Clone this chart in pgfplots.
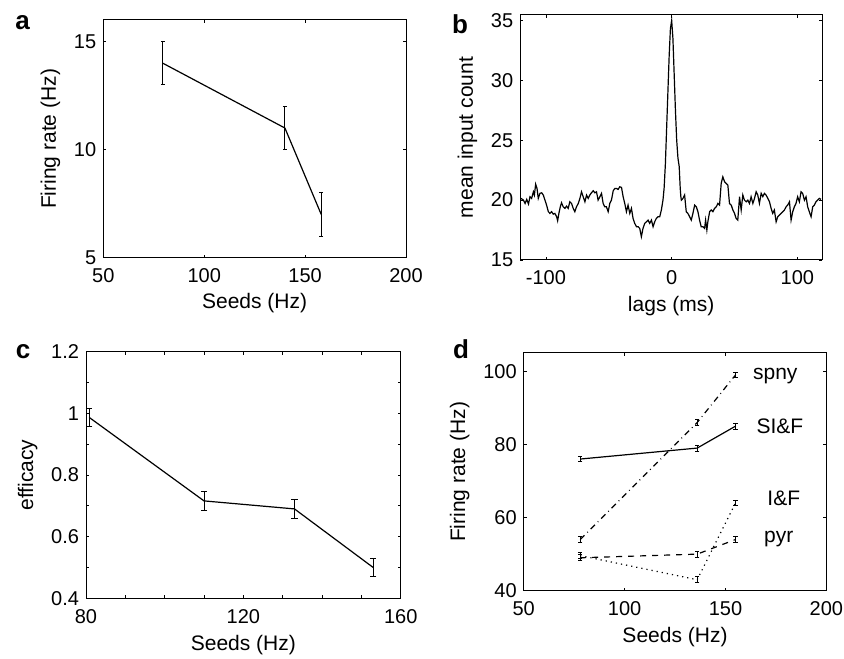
\documentclass[border=0pt]{standalone}
\usepackage{pgfplots}
\pgfplotsset{compat=1.18}
\usepackage{fontspec}
\setmainfont{Liberation Sans}
\pgfplotsset{
  panel/.style={
    scale only axis, anchor=south west,
    tick align=inside, major tick length=1.5pt, minor tick length=1.5pt,
    axis line style={line width=0.5pt},
    every tick/.style={black, line width=0.4pt},
    tick label style={font=\fontsize{10}{12}\selectfont},
    xticklabel style={anchor=base, yshift=-12.5pt},
    label style={font=\fontsize{10.5}{12.5}\selectfont},
    xlabel style={at={(axis description cs:0.5,0)}, anchor=base, yshift=-#1},
    /pgf/number format/assume math mode=true,
  },
  panel/.default=25.5pt,
  ebar/.style={black, line width=0.6pt,
    error bars/.cd, y dir=both, y explicit,
    error bar style={line width=0.5pt, solid},
    error mark options={rotate=90, mark size=#1, line width=0.5pt, solid}},
}
\newcommand{\plabel}{\fontsize{13}{15}\selectfont\bfseries}
\begin{document}
\begin{tikzpicture}
\useasboundingbox (0,0) rectangle (422pt,329pt);
% ---------------- a
\begin{axis}[panel, at={(51.65pt,200.15pt)}, width=151.35pt, height=118.85pt,
  xmin=50, xmax=200, ymin=5, ymax=16,
  xtick={50,100,150,200}, ytick={5,10,15},
  xlabel={Seeds (Hz)}, ylabel={Firing rate (Hz)}]
\addplot[ebar=1pt] coordinates {
  (79.5,14) +- (0,1)
  (140,11) +- (0,1)
  (158,7) +- (0,1)
};
\end{axis}
% ---------------- b
\begin{axis}[panel=26pt, at={(260.15pt,199pt)}, width=150.85pt, height=122.5pt,
  xmin=-120.4, xmax=119.6, ymin=15, ymax=35.45,
  xtick={-100,0,100}, ytick={15,20,25,30,35},
  xlabel={lags (ms)}, ylabel={mean input count}]
\addplot[black, line width=0.6pt] coordinates {
(-119.8,20.14) (-117.9,20.0) (-116.6,19.72) (-115.3,20.06) (-113.9,19.67) (-112.7,20.28)
(-111.4,20.14) (-110.0,20.69) (-109.2,20.42) (-108.2,21.33) (-107.1,20.97) (-106.1,20.14)
(-104.8,20.56) (-103.4,20.61) (-102.1,20.42) (-100.8,20.0) (-99.5,19.58) (-98.1,19.03)
(-96.8,18.89) (-95.5,19.03) (-94.2,18.83) (-92.9,18.89) (-91.5,18.61) (-90.7,18.28)
(-89.7,18.89) (-88.6,19.44) (-87.6,19.78) (-86.3,19.44) (-84.9,19.31) (-83.6,19.5)
(-82.3,19.31) (-81.0,19.86) (-79.6,19.72) (-78.3,19.31) (-77.0,19.03) (-75.7,19.44)
(-74.3,19.72) (-73.0,20.14) (-71.7,20.69) (-70.4,20.28) (-69.0,19.86) (-67.7,20.42)
(-66.4,20.14) (-65.1,20.42) (-63.8,20.61) (-62.4,20.78) (-61.1,20.61) (-59.8,20.69)
(-58.5,20.0) (-57.1,20.28) (-55.8,20.56) (-54.5,19.72) (-53.2,19.44) (-51.9,19.44)
(-50.5,19.03) (-49.2,19.72) (-47.9,20.0) (-46.5,20.78) (-45.2,20.97) (-43.9,20.97)
(-42.6,20.89) (-41.3,21.11) (-39.9,21.06) (-38.6,20.28) (-37.3,19.72) (-36.0,19.03)
(-34.7,19.58) (-33.3,18.89) (-32.0,19.31) (-30.7,18.47) (-29.4,18.06) (-28.0,17.78)
(-26.7,17.78) (-25.4,17.64) (-24.1,16.94) (-22.8,17.64) (-21.4,18.06) (-20.1,18.19)
(-18.8,18.33) (-17.5,18.06) (-16.1,18.33) (-14.8,17.78) (-13.5,18.19) (-12.2,18.47)
(-10.8,18.61) (-9.5,18.61) (-8.2,19.17) (-6.9,20.0) (-6,21.0) (-5,23.0) (-4,26.0)
(-3,29.0) (-2,32.0) (-1,34.3) (0,35.0) (1,33.5) (2,30.5) (3,27.5) (4,25.0) (5,23.5)
(6,22.8) (6.8,21.0) (7.3,20.3) (7.7,20.0) (9.0,20.14) (10.3,20.42) (11.6,19.03)
(12.9,18.89) (14.3,18.61) (15.6,18.33) (16.9,18.89) (18.3,19.58) (19.6,19.44)
(20.9,19.03) (22.2,18.33) (23.5,17.78) (24.9,17.78) (26.2,17.64) (27.0,18.33)
(28.0,17.5) (28.8,18.19) (30.2,19.03) (31.5,19.17) (32.8,19.03) (34.1,19.31)
(35.5,19.44) (36.8,19.72) (38.1,19.58) (39.4,21.39) (40.7,21.94) (42.1,21.53)
(43.4,21.39) (44.7,21.25) (46.0,19.72) (47.4,19.58) (48.7,19.17) (50.0,18.89)
(51.3,18.47) (52.6,18.33) (54.0,20.28) (55.3,19.17) (56.6,20.42) (57.9,20.0)
(59.3,19.86) (60.6,20.0) (61.9,19.72) (63.2,20.28) (64.6,19.72) (65.9,20.14)
(67.2,20.69) (68.5,20.42) (69.8,19.72) (71.2,20.56) (72.5,20.28) (73.8,20.56)
(75.1,20.42) (76.5,20.14) (77.8,19.86) (79.1,19.31) (80.4,18.89) (81.7,19.17)
(83.1,18.19) (84.4,18.61) (85.7,18.75) (87.0,18.89) (88.4,19.03) (89.7,19.17)
(91.0,19.44) (92.3,19.58) (93.7,19.86) (95.0,18.33) (96.3,19.03) (97.6,19.44)
(98.9,19.72) (100.2,20.28) (101.6,19.86) (102.9,20.69) (104.2,20.56) (105.6,20.0)
(106.9,20.28) (108.2,19.44) (109.5,19.03) (110.9,18.61) (112.2,19.44) (113.5,19.58)
(114.8,19.86) (116.1,20.0) (117.5,20.14) (118.8,20.06)
};
\end{axis}
% ---------------- c
\begin{axis}[panel=26pt, at={(43pt,29.85pt)}, width=157.35pt, height=123.3pt,
  xmin=80, xmax=160, ymin=0.4, ymax=1.2,
  xtick={80,120,160}, xticklabels={80,120,160},
  minor xtick={90,100,110,130,140,150},
  ytick={0.4,0.6,0.8,1,1.2}, yticklabels={0.4,0.6,0.8,1,1.2},
  minor ytick={0.5,0.7,0.9,1.1},
  xlabel={Seeds (Hz)}, ylabel={efficacy}]
\addplot[ebar=1.6pt] coordinates {
  (80.8,0.987) +- (0,0.03)
  (110,0.716) +- (0,0.03)
  (133,0.69) +- (0,0.03)
  (153,0.50) +- (0,0.03)
};
\end{axis}
% ---------------- d
\begin{axis}[panel=26pt, at={(261.85pt,33.65pt)}, width=151.3pt, height=118.85pt,
  xmin=50, xmax=200, ymin=40, ymax=105,
  xtick={50,100,150,200}, ytick={40,60,80,100},
  xlabel={Seeds (Hz)}, ylabel={Firing rate (Hz)}]
\addplot[ebar=1.1pt] coordinates {
  (78,76) +- (0,0.8) (136,79) +- (0,0.8) (155,85) +- (0,0.8)};
\addplot[dash dot, ebar=1.1pt] coordinates {
  (78,54) +- (0,0.8) (136,86) +- (0,0.8) (155,99) +- (0,0.8)};
\addplot[dashed, ebar=1.1pt] coordinates {
  (78,49) +- (0,0.8) (136,50) +- (0,0.8) (155,54) +- (0,0.8)};
\addplot[dotted, ebar=1.1pt] coordinates {
  (78,49.6) +- (0,0.8) (136,43) +- (0,0.8) (155,64) +- (0,0.8)};
\node[font=\fontsize{10.5}{12.5}\selectfont] at (axis cs:174.7,98.8) {spny};
\node[font=\fontsize{10.5}{12.5}\selectfont] at (axis cs:177,85.1) {SI\&F};
\node[font=\fontsize{10.5}{12.5}\selectfont] at (axis cs:178.9,65.3) {I\&F};
\node[font=\fontsize{10.5}{12.5}\selectfont] at (axis cs:176.4,54) {pyr};
\end{axis}
% ---------------- panel letters
\node[anchor=base, font=\plabel] at (11.3pt,314.3pt) {a};
\node[anchor=base, font=\plabel] at (230pt,312.3pt) {b};
\node[anchor=base, font=\plabel] at (11.5pt,149.8pt) {c};
\node[anchor=base, font=\plabel] at (230.5pt,149.5pt) {d};
\end{tikzpicture}
\end{document}
